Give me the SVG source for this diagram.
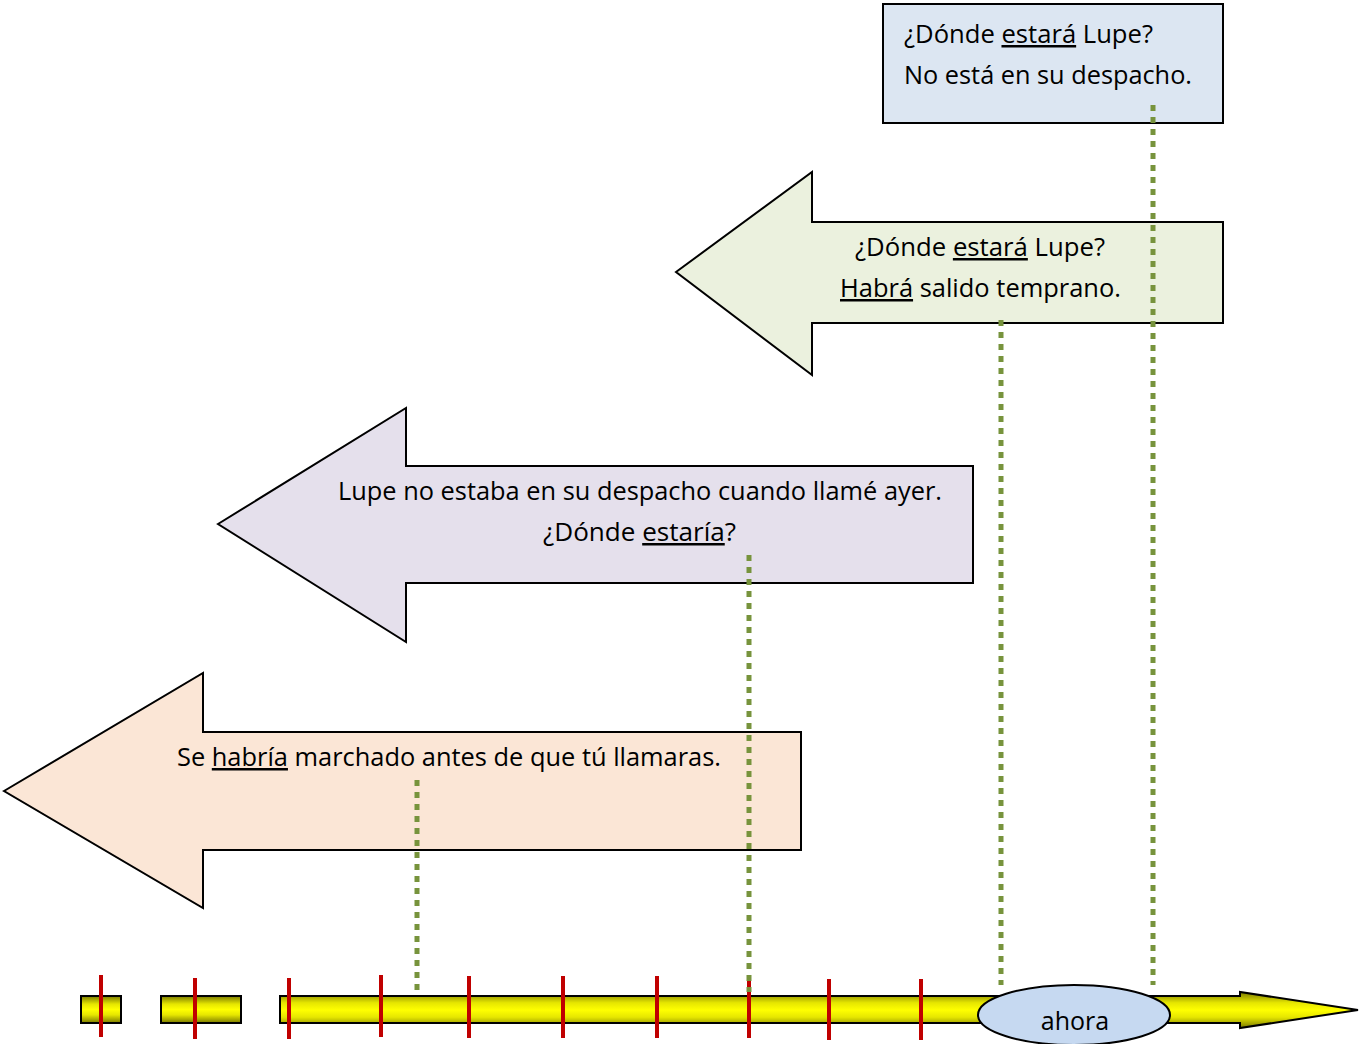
<svg xmlns="http://www.w3.org/2000/svg" width="1360" height="1044" viewBox="0 0 1360 1044">
<defs>
<linearGradient id="yel" x1="0" y1="0" x2="0" y2="1">
<stop offset="0" stop-color="#7a7a00"/>
<stop offset="0.3" stop-color="#e6e600"/>
<stop offset="0.5" stop-color="#ffff00"/>
<stop offset="0.7" stop-color="#e6e600"/>
<stop offset="1" stop-color="#7a7a00"/>
</linearGradient>
<style>
.shape{stroke:#000;stroke-width:2}
.t{font-family:"Open Sans","Noto Sans",sans-serif;font-size:25px;fill:#000}
.u{text-decoration:underline}
.tick{stroke:#c00000;stroke-width:4}
.dot{stroke:#77933c;stroke-width:5;stroke-dasharray:6 6;fill:none}
</style>
</defs>
<rect width="1360" height="1044" fill="#fff"/>
<g id="box-ahora-estara">
<rect class="shape" x="883" y="4" width="340" height="119" fill="#dce6f2"/>
<text class="t" x="904" y="43" textLength="249" lengthAdjust="spacingAndGlyphs">¿Dónde <tspan class="u">estará</tspan> Lupe?</text>
<text class="t" x="904" y="84" textLength="288" lengthAdjust="spacingAndGlyphs">No está en su despacho.</text>
</g>
<g id="arrow-habra">
<polygon class="shape" points="676,272 812,172 812,222 1223,222 1223,323 812,323 812,375" fill="#ebf1de"/>
<text class="t" x="855" y="256" textLength="250" lengthAdjust="spacingAndGlyphs">¿Dónde <tspan class="u">estará</tspan> Lupe?</text>
<text class="t" x="840" y="297" textLength="281" lengthAdjust="spacingAndGlyphs"><tspan class="u">Habrá</tspan> salido temprano.</text>
</g>
<g id="arrow-estaria">
<polygon class="shape" points="218,524 406,408 406,466 973,466 973,583 406,583 406,642" fill="#e5e0ec"/>
<text class="t" x="338" y="500" textLength="604" lengthAdjust="spacingAndGlyphs">Lupe no estaba en su despacho cuando llamé ayer.</text>
<text class="t" x="543" y="541" textLength="193" lengthAdjust="spacingAndGlyphs">¿Dónde <tspan class="u">estaría</tspan>?</text>
</g>
<g id="arrow-habria">
<polygon class="shape" points="4,791 203,673 203,732 801,732 801,850 203,850 203,908" fill="#fbe6d6"/>
<text class="t" x="177" y="766" textLength="544" lengthAdjust="spacingAndGlyphs">Se <tspan class="u">habría</tspan> marchado antes de que tú llamaras.</text>
</g>
<g id="timeline">
<rect class="shape" x="81" y="996" width="40" height="27" fill="url(#yel)"/>
<rect class="shape" x="161" y="996" width="80" height="27" fill="url(#yel)"/>
<polygon class="shape" points="280,996 1240,996 1240,992 1358,1010 1240,1028 1240,1023 280,1023" fill="url(#yel)"/>
</g>
<g id="ticks">
<line class="tick" x1="101" y1="975" x2="101" y2="1037"/>
<line class="tick" x1="195" y1="978" x2="195" y2="1039"/>
<line class="tick" x1="289" y1="978" x2="289" y2="1039"/>
<line class="tick" x1="381" y1="975" x2="381" y2="1037"/>
<line class="tick" x1="469" y1="976" x2="469" y2="1038"/>
<line class="tick" x1="563" y1="976" x2="563" y2="1038"/>
<line class="tick" x1="657" y1="976" x2="657" y2="1038"/>
<line class="tick" x1="749" y1="978" x2="749" y2="1038"/>
<line class="tick" x1="829" y1="979" x2="829" y2="1040"/>
<line class="tick" x1="921" y1="979" x2="921" y2="1040"/>
</g>
<g id="ahora">
<ellipse class="shape" cx="1074" cy="1015" rx="96" ry="30" fill="#c6d9f1"/>
<text class="t" x="1075" y="1030" text-anchor="middle">ahora</text>
</g>
<g id="connectors">
<line class="dot" x1="1153" y1="105" x2="1153" y2="985"/>
<line class="dot" x1="1001" y1="320" x2="1001" y2="985"/>
<line class="dot" x1="749" y1="555" x2="749" y2="992"/>
<line class="dot" x1="417" y1="780" x2="417" y2="992"/>
</g>
</svg>
